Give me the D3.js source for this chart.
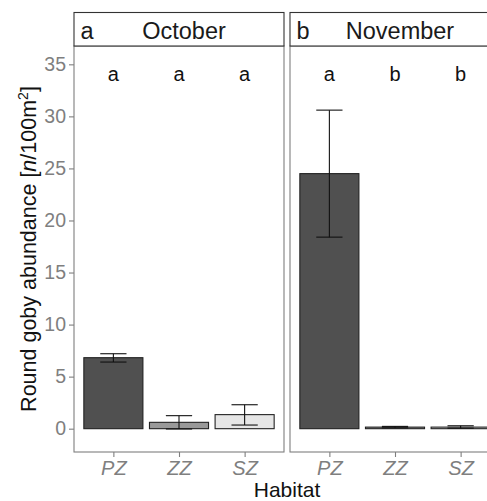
<!DOCTYPE html>
<html>
<head>
<meta charset="utf-8">
<script src="https://cdn.jsdelivr.net/npm/d3@7"></script>
<style>
  body { margin: 0; background: #fff; }
  text { font-family: "Liberation Sans", Arial, sans-serif; }
</style>
</head>
<body>
<svg id="chart" width="487" height="501"></svg>
<script>
var habitats = ["PZ", "ZZ", "SZ"];
var months = ["October", "November"];
var panelTags = ["a", "b"];
var fills = ["#505050", "#999999", "#e6e6e6"];

// mean abundance and error bar ends, per month
var octMean = [6.82, 0.61, 1.35];
var octLow = [6.4, -0.03, 0.35];
var octHigh = [7.2, 1.25, 2.3];
var novMean = [24.5, 0.15, 0.15];
var novLow = [18.4, 0.08, 0.05];
var novHigh = [30.6, 0.22, 0.28];

var octLetters = ["a", "a", "a"];
var novLetters = ["a", "b", "b"];
var letterY = 34;

var yTicks = [0, 5, 10, 15, 20, 25, 30, 35];

var panels = [
  {tag: panelTags[0], month: months[0], mean: octMean, low: octLow, high: octHigh, letters: octLetters},
  {tag: panelTags[1], month: months[1], mean: novMean, low: novLow, high: novHigh, letters: novLetters}
];

var svg = d3.select("#chart");
var panelTop = 46, panelBottom = 452, stripTop = 12.5;
var panelW = 210, panelLeft = [74, 290];
var axisGrey = "#7f7f7f";

var y = d3.scaleLinear().domain([-2.24, 36.76]).range([panelBottom, panelTop]);

panels.forEach(function(p, i) {
  var x0 = panelLeft[i];
  var x = d3.scalePoint().domain(habitats).range([x0, x0 + panelW]).padding(0.6);
  var step = x.step();
  var g = svg.append("g");

  // panel border
  g.append("rect")
    .attr("x", x0).attr("y", panelTop)
    .attr("width", panelW).attr("height", panelBottom - panelTop)
    .attr("fill", "none").attr("stroke", axisGrey).attr("stroke-width", 1.1);

  // strip
  g.append("rect")
    .attr("x", x0).attr("y", stripTop)
    .attr("width", panelW).attr("height", panelTop - stripTop)
    .attr("fill", "#fff").attr("stroke", "#333").attr("stroke-width", 1.1);
  g.append("text")
    .attr("x", x0 + 6.5).attr("y", 39)
    .attr("font-size", 23.5).attr("fill", "#1a1a1a")
    .text(p.tag);
  g.append("text")
    .attr("x", x0 + panelW / 2 + 5).attr("y", 39)
    .attr("text-anchor", "middle")
    .attr("font-size", 23.5).attr("fill", "#1a1a1a")
    .text(p.month);

  // bars
  g.selectAll(".bar").data(habitats).enter().append("rect")
    .attr("x", function(d) { return x(d) - step * 0.45; })
    .attr("width", step * 0.9)
    .attr("y", function(d, j) { return y(p.mean[j]); })
    .attr("height", function(d, j) { return y(0) - y(p.mean[j]); })
    .attr("fill", function(d, j) { return fills[j]; })
    .attr("stroke", "#222").attr("stroke-width", 1.1);

  // error bars
  var capW = step * 0.2;
  habitats.forEach(function(h, j) {
    var cx = x(h);
    var eg = g.append("g").attr("stroke", "#111").attr("stroke-width", 1.1);
    eg.append("line").attr("x1", cx).attr("x2", cx).attr("y1", y(p.low[j])).attr("y2", y(p.high[j]));
    eg.append("line").attr("x1", cx - capW).attr("x2", cx + capW).attr("y1", y(p.low[j])).attr("y2", y(p.low[j]));
    eg.append("line").attr("x1", cx - capW).attr("x2", cx + capW).attr("y1", y(p.high[j])).attr("y2", y(p.high[j]));
  });

  // significance letters
  g.selectAll(".let").data(p.letters).enter().append("text")
    .attr("x", function(d, j) { return x(habitats[j]); })
    .attr("y", y(letterY)).attr("dy", "0.32em")
    .attr("text-anchor", "middle")
    .attr("font-size", 20).attr("fill", "#111")
    .text(function(d) { return d; });

  // x axis
  var xa = g.append("g").attr("transform", "translate(0," + panelBottom + ")")
    .call(d3.axisBottom(x).tickSize(5).tickPadding(4));
  xa.select(".domain").remove();
  xa.selectAll("line").attr("stroke", axisGrey).attr("stroke-width", 1.1);
  xa.selectAll("text").attr("font-size", 20).attr("font-style", "italic")
    .attr("fill", axisGrey).attr("font-family", "Liberation Sans, Arial, sans-serif");
});

// y axis
var ya = svg.append("g").attr("transform", "translate(" + panelLeft[0] + ",0)")
  .call(d3.axisLeft(y).tickValues(yTicks).tickSize(5).tickPadding(3));
ya.select(".domain").remove();
ya.selectAll("line").attr("stroke", axisGrey).attr("stroke-width", 1.1);
ya.selectAll("text").attr("font-size", 19.5).attr("fill", axisGrey)
  .attr("font-family", "Liberation Sans, Arial, sans-serif");

// axis titles
svg.append("text")
  .attr("x", 287).attr("y", 497)
  .attr("text-anchor", "middle")
  .attr("font-size", 21).attr("fill", "#111")
  .text("Habitat");

var yt = svg.append("text")
  .attr("transform", "translate(36," + (panelTop + panelBottom) / 2 + ") rotate(-90)")
  .attr("text-anchor", "middle")
  .attr("font-size", 21.5).attr("fill", "#111");
yt.append("tspan").text("Round goby abundance [");
yt.append("tspan").attr("font-style", "italic").text("n");
yt.append("tspan").text("/100m");
yt.append("tspan").attr("font-size", 14).attr("dy", "-0.55em").text("2");
yt.append("tspan").attr("dy", "0.38em").text("]");
</script>
</body>
</html>
